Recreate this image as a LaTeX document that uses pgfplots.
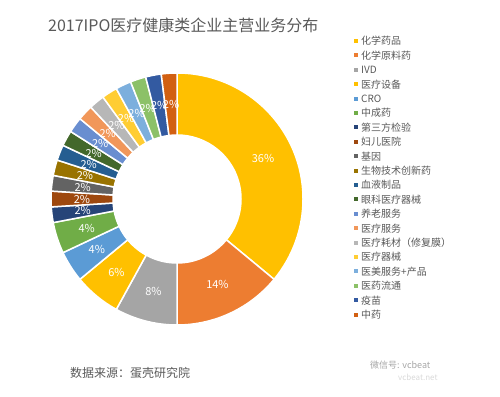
\documentclass[border=0pt]{standalone}
\usepackage{pgfplots}
\pgfplotsset{compat=1.18}
\usepackage{pgfplotstable}
\usepackage{fontspec}
\setmainfont{Noto Sans CJK SC}
\definecolor{c1}{HTML}{FFC000}
\definecolor{c2}{HTML}{ED7D31}
\definecolor{c3}{HTML}{A5A5A5}
\definecolor{c4}{HTML}{FFC000}
\definecolor{c5}{HTML}{5B9BD5}
\definecolor{c6}{HTML}{70AD47}
\definecolor{c7}{HTML}{264478}
\definecolor{c8}{HTML}{9E480E}
\definecolor{c9}{HTML}{636363}
\definecolor{c10}{HTML}{997300}
\definecolor{c11}{HTML}{255E91}
\definecolor{c12}{HTML}{43682B}
\definecolor{c13}{HTML}{698ED0}
\definecolor{c14}{HTML}{F1975A}
\definecolor{c15}{HTML}{B7B7B7}
\definecolor{c16}{HTML}{FFCD33}
\definecolor{c17}{HTML}{7CAFDD}
\definecolor{c18}{HTML}{8CC168}
\definecolor{c19}{HTML}{335AA1}
\definecolor{c20}{HTML}{D26012}
\definecolor{txt}{HTML}{595959}
\pgfplotstableread[col sep=comma]{
name,value,col
化学药品,36,c1
化学原料药,14,c2
IVD,8,c3
医疗设备,6,c4
CRO,4,c5
中成药,4,c6
第三方检验,2,c7
妇儿医院,2,c8
基因,2,c9
生物技术创新药,2,c10
血液制品,2,c11
眼科医疗器械,2,c12
养老服务,2,c13
医疗服务,2,c14
医疗耗材（修复膜）,2,c15
医疗器械,2,c16
医美服务+产品,2,c17
医药流通,2,c18
疫苗,2,c19
中药,2,c20
}\piedata
\begin{document}
\begin{tikzpicture}
\useasboundingbox (0,0) rectangle (500pt,396pt);
\begin{axis}[at={(0,0)},anchor=south west,x=1pt,y=1pt,xmin=0,xmax=500,ymin=0,ymax=396,hide axis,clip=false]
\pgfplotsextra{
  \gdef\cumval{0}
  \foreach \i in {0,...,19}{
    \pgfplotstablegetelem{\i}{value}\of\piedata \let\sliceval\pgfplotsretval
    \pgfplotstablegetelem{\i}{col}\of\piedata \let\slicecol\pgfplotsretval
    \pgfplotstablegetelem{\i}{name}\of\piedata \let\slicename\pgfplotsretval
    \pgfmathsetmacro\angA{90-3.6*\cumval}
    \pgfmathsetmacro\angB{90-3.6*(\cumval+\sliceval)}
    \pgfmathsetmacro\angM{(\angA+\angB)/2}
    \pgfmathsetmacro\angR{\angB+180}
    \fill[fill=\slicecol, draw=white, line width=1.5pt]
      (axis cs:177,197) ++(\angA:126pt) arc[start angle=\angA, end angle=\angB, radius=126pt]
      -- ++(\angR:62pt) arc[start angle=\angB, end angle=\angA, radius=64pt] -- cycle;
    \path (axis cs:177,197) ++(\angM:95pt) node[text=white, font=\fontsize{11}{12}\selectfont, inner sep=0pt] {\sliceval\%};
    \pgfmathsetmacro\legy{353-14.4*\i}
    \fill[\slicecol] (axis cs:354,\legy) rectangle (axis cs:358,\legy+4);
    \node[anchor=west, text=txt, font=\fontsize{10}{12}\selectfont, inner sep=0pt] at (axis cs:361,\legy+2) {\slicename};
    \pgfmathsetmacro\newcum{\cumval+\sliceval}
    \xdef\cumval{\newcum}
  }
}
\node[anchor=west, text=txt, font=\fontsize{16}{18}\selectfont, inner sep=0pt] at (axis cs:48,371) {2017IPO医疗健康类企业主营业务分布};
\node[anchor=west, text=txt, font=\fontsize{12}{14}\selectfont, inner sep=0pt] at (axis cs:70,23) {数据来源：蛋壳研究院};
\node[anchor=west, text=black!35, font=\fontsize{9}{11}\selectfont, inner sep=0pt] at (axis cs:370,31) {微信号: vcbeat};
\node[anchor=west, text=black!15, font=\fontsize{8}{10}\selectfont, inner sep=0pt] at (axis cs:398,19) {vcbeat.net};
\end{axis}
\end{tikzpicture}
\end{document}
